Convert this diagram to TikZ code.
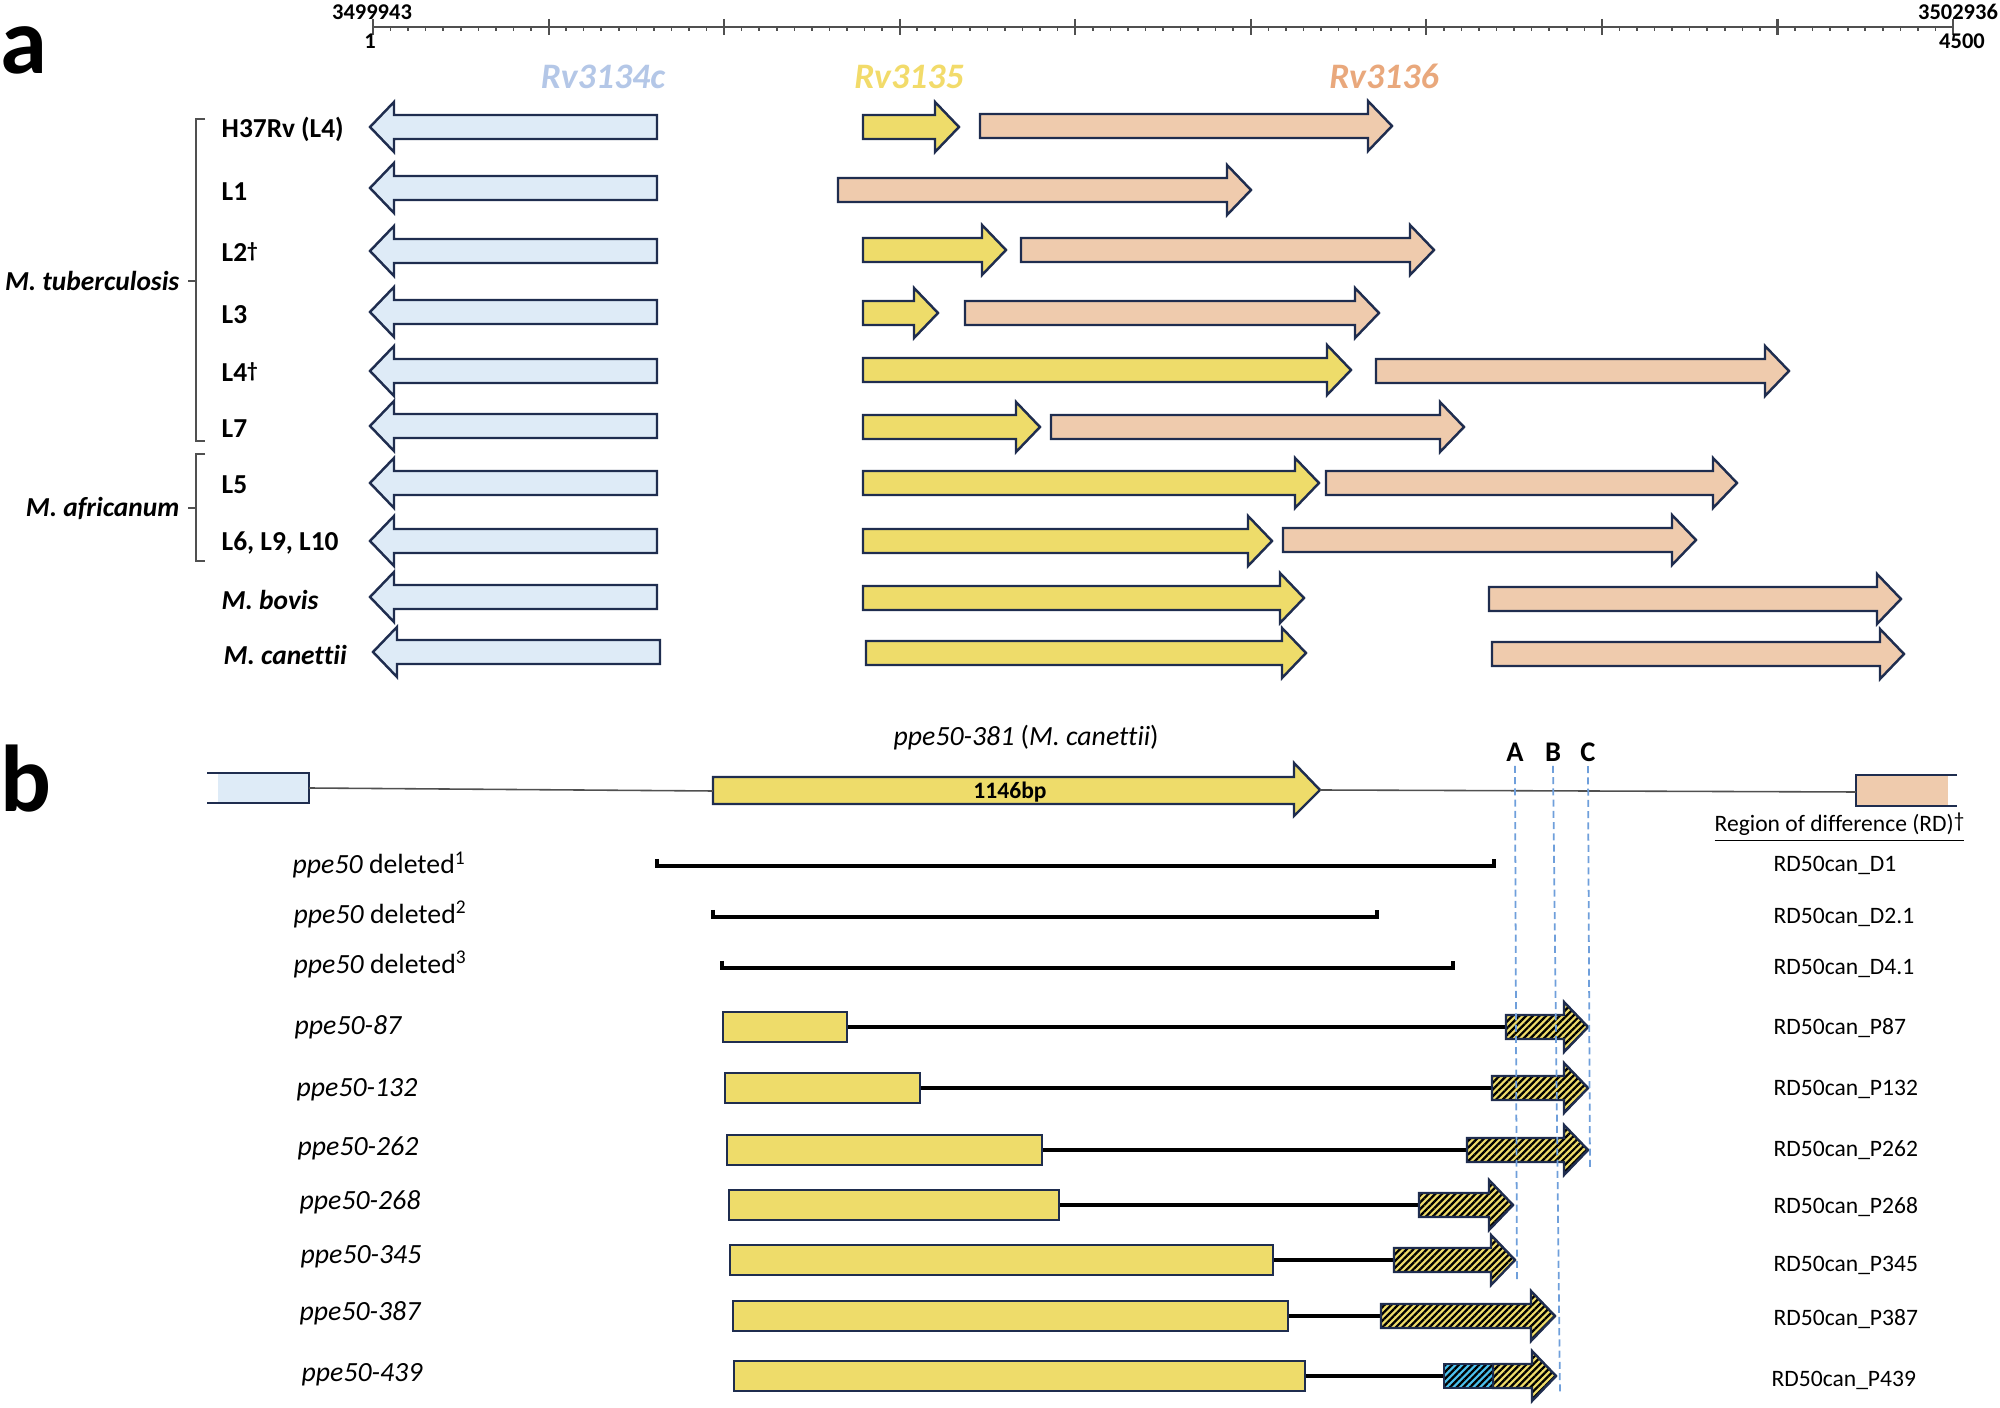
\documentclass[tikz,border=0pt]{standalone}
\usepackage{fontspec}
\setmainfont{Carlito}[Ligatures={NoCommon}]
\usetikzlibrary{patterns.meta}

\definecolor{navy}{HTML}{1F2D4F}
\definecolor{genblue}{HTML}{DEEBF7}
\definecolor{genyellow}{HTML}{EEDC6A}
\definecolor{genorange}{HTML}{EFCBAD}
\definecolor{hatchblue}{HTML}{4BC0EE}
\definecolor{lblblue}{HTML}{B4C7E7}
\definecolor{lblyellow}{HTML}{F2DB6A}
\definecolor{lblorange}{HTML}{E9A87C}
\definecolor{guideblue}{HTML}{6F9FDB}
\definecolor{rulegray}{HTML}{505050}

% forward gene: style, start, tip, y
\newcommand{\fwdgene}[4]{%
  \draw[#1] (#2,#4-12) -- (#3-24,#4-12) -- (#3-24,#4-25) -- (#3,#4)
    -- (#3-24,#4+25) -- (#3-24,#4+12) -- (#2,#4+12) -- cycle;}
% reverse gene: style, tip, end, y
\newcommand{\revgene}[4]{%
  \draw[#1] (#3,#4-12) -- (#2+24,#4-12) -- (#2+24,#4-25) -- (#2,#4)
    -- (#2+24,#4+25) -- (#2+24,#4+12) -- (#3,#4+12) -- cycle;}
\newcommand{\rdmark}{\raisebox{0.35ex}{\fontsize{6}{7}\selectfont †}}

\begin{document}
\begin{tikzpicture}[x=0.1mm,y=-0.1mm,
	Gene/.style={draw=navy,line width=0.7pt,line join=miter},
	Blue/.style={Gene,fill=genblue},
	Yel/.style={Gene,fill=genyellow},
	Ora/.style={Gene,fill=genorange},
	Hatch/.style={Gene,preaction={fill=genyellow},pattern={Lines[angle=45,distance=1.35pt,line width=0.65pt]},pattern color=black},
	HatchB/.style={Gene,preaction={fill=hatchblue},pattern={Lines[angle=45,distance=1.35pt,line width=0.65pt]},pattern color=black},
	YBox/.style={rectangle,draw=navy,line width=0.7pt,fill=genyellow,minimum height=3mm,inner sep=0,anchor=west},
	Row/.style={font=\fontsize{7.8}{9}\selectfont\bfseries,anchor=west,inner sep=0},
	Species/.style={font=\fontsize{7.8}{9}\selectfont\bfseries\itshape,anchor=east,inner sep=0},
	GeneName/.style={font=\fontsize{10.2}{12}\selectfont\bfseries\itshape,inner sep=0},
	Strain/.style={font=\fontsize{7.9}{9}\selectfont,anchor=west,inner sep=0},
	RD/.style={font=\fontsize{6.7}{8}\selectfont,anchor=west,inner sep=0},
	Site/.style={font=\fontsize{8.1}{10}\selectfont\bfseries,inner sep=0},
	Panel/.style={font=\fontsize{27}{30}\selectfont\bfseries,anchor=base west,inner sep=0},
	Tick/.style={font=\fontsize{6.4}{7}\selectfont\bfseries,inner sep=0,anchor=base},
	Brace/.style={rulegray,line width=0.5pt},
	Link/.style={black,line width=0.95pt},
	Del/.style={black,line width=0.95pt},
	Guide/.style={guideblue,line width=0.5pt,dash pattern=on 2pt off 1.2pt},
	Backbone/.style={rulegray,line width=0.45pt},
]
\useasboundingbox (0,0) rectangle (2000,1408);

%% panel a
\node[Panel] (pa) at (0,74) {a};

% scale bar
\draw[rulegray,line width=0.8pt] (373,27) -- (1953,27);
\foreach \i in {1,...,89}
	\draw[rulegray,line width=0.45pt] ({373+17.556*\i},27) -- ++(0,4);
\foreach \i in {0,...,9}
	\draw[rulegray,line width=0.6pt] ({373+175.56*\i},19) -- ++(0,16);
\node[Tick] (pos1) at (372,20) {3499943};
\node[Tick] (one) at (370,49) {1};
\node[Tick] (pos2) at (1958,20) {3502936};
\node[Tick] (end) at (1962,49) {4500};

% gene names
\node[GeneName,text=lblblue,anchor=base] (g34) at (603,89) {Rv3134c};
\node[GeneName,text=lblyellow,anchor=base] (g35) at (909,89) {Rv3135};
\node[GeneName,text=lblorange,anchor=base] (g36) at (1384,89) {Rv3136};

% row labels
\node[Row] (r1) at (221,129) {H37Rv (L4)};
\node[Row] (r2) at (221,192) {L1};
\node[Row] (r3) at (221,252) {L2\rdmark};
\node[Row] (r4) at (221,315) {L3};
\node[Row] (r5) at (221,372) {L4\rdmark};
\node[Row] (r6) at (221,429) {L7};
\node[Row] (r7) at (221,485) {L5};
\node[Row] (r8) at (221,543) {L6, L9, L10};
\node[Row,font=\fontsize{7.8}{9}\selectfont\bfseries\itshape] (r9) at (221,600) {M. bovis};
\node[Row,font=\fontsize{7.8}{9}\selectfont\bfseries\itshape] (r10) at (223,655) {M. canettii};

% brackets
\draw[Brace] (205,119) -- (196,119) -- (196,441) -- (205,441);
\draw[Brace] (196,281) -- (188,281);
\node[Species] (mtb) at (180,281) {M. tuberculosis};
\draw[Brace] (205,454) -- (196,454) -- (196,561) -- (205,561);
\draw[Brace] (196,508) -- (188,508);
\node[Species] (maf) at (180,508) {M. africanum};

% Rv3134c
\foreach \y in {127,188,251,312,371,426,483,541,597}{
	\revgene{Blue}{370}{657}{\y}
}
\revgene{Blue}{373}{660}{652}

% Rv3135
\fwdgene{Yel}{863}{959}{127}
\fwdgene{Yel}{863}{1006}{250}
\fwdgene{Yel}{863}{938}{313}
\fwdgene{Yel}{863}{1351}{370}
\fwdgene{Yel}{863}{1040}{427}
\fwdgene{Yel}{863}{1319}{483}
\fwdgene{Yel}{863}{1272}{541}
\fwdgene{Yel}{863}{1304}{598}
\fwdgene{Yel}{866}{1306}{653}

% Rv3136
\fwdgene{Ora}{980}{1392}{126}
\fwdgene{Ora}{838}{1251}{190}
\fwdgene{Ora}{1021}{1434}{250}
\fwdgene{Ora}{965}{1379}{313}
\fwdgene{Ora}{1376}{1789}{371}
\fwdgene{Ora}{1051}{1464}{427}
\fwdgene{Ora}{1326}{1737}{483}
\fwdgene{Ora}{1283}{1696}{540}
\fwdgene{Ora}{1489}{1901}{599}
\fwdgene{Ora}{1492}{1904}{654}

%% panel b
\node[Panel] (pb) at (0,812) {b};
\node[Strain] (hdr) at (893,738) {\textit{ppe50-381} (\textit{M. canettii})};

% backbone
\fill[genblue] (218,773) rectangle (309,803);
\draw[Gene] (207,773) -- (309,773) -- (309,803) -- (207,803);
\coordinate (lbox) at (309,788);
\coordinate (bigstart) at (713,791);
\coordinate (bigtip) at (1320,790);
\draw[Yel] (713,777) -- (1294,777) -- (1294,763) -- (1320,790) -- (1294,816) -- (1294,804) -- (713,804) -- cycle;
\node[font=\fontsize{6.7}{8}\selectfont\bfseries,inner sep=0] (len) at (1010,792) {1146bp};
\fill[genorange] (1856,775) rectangle (1948,806);
\draw[Gene] (1957,775) -- (1856,775) -- (1856,806) -- (1957,806);
\coordinate (rbox) at (1856,792);
\draw[Backbone] (lbox) -- (bigstart);
\draw[Backbone] (bigtip) -- (rbox);

% sites
\node[Site] (sA) at (1515,752) {A};
\node[Site] (sB) at (1553,752) {B};
\node[Site] (sC) at (1588,752) {C};
\coordinate (eA) at (1517,1282);
\coordinate (eB) at (1560,1395);
\coordinate (eC) at (1590,1170);

% deletions
\node[Strain] (d1) at (292,865) {\textit{ppe50} deleted\textsuperscript{1}};
\node[Strain] (d2) at (293,914) {\textit{ppe50} deleted\textsuperscript{2}};
\node[Strain] (d3) at (293,964) {\textit{ppe50} deleted\textsuperscript{3}};
\draw[Del] (657,859) -- (657,866) -- (1494,866) -- (1494,859);
\draw[Del] (713,910) -- (713,917) -- (1377,917) -- (1377,910);
\draw[Del] (722,961) -- (722,968) -- (1453,968) -- (1453,961);

% pseudogenes
\node[Strain] (l87) at (294,1027) {\textit{ppe50-87}};
\node[Strain] (l132) at (296,1090) {\textit{ppe50-132}};
\node[Strain] (l262) at (297,1148) {\textit{ppe50-262}};
\node[Strain] (l268) at (299,1202) {\textit{ppe50-268}};
\node[Strain] (l345) at (300,1257) {\textit{ppe50-345}};
\node[Strain] (l387) at (299,1313) {\textit{ppe50-387}};
\node[Strain] (l439) at (301,1375) {\textit{ppe50-439}};

\node[YBox,minimum width=12.37mm] (b87) at (722,1027) {};
\node[YBox,minimum width=19.45mm] (b132) at (724,1088) {};
\node[YBox,minimum width=31.51mm] (b262) at (725.5,1150) {};
\node[YBox,minimum width=32.98mm] (b268) at (728,1205) {};
\node[YBox,minimum width=54.29mm] (b345) at (729,1260) {};
\node[YBox,minimum width=55.47mm] (b387) at (732,1316) {};
\node[YBox,minimum width=57.06mm] (b439) at (733,1376) {};

\coordinate (h87) at (1506,1027);
\coordinate (h132) at (1492,1088);
\coordinate (h262) at (1467,1150);
\coordinate (h268) at (1419,1205);
\coordinate (h345) at (1394,1260);
\coordinate (h387) at (1381,1316);
\coordinate (h439) at (1444,1376);

\draw[Link] (b87.east) -- (h87);
\draw[Link] (b132.east) -- (h132);
\draw[Link] (b262.east) -- (h262);
\draw[Link] (b268.east) -- (h268);
\draw[Link] (b345.east) -- (h345);
\draw[Link] (b387.east) -- (h387);
\draw[Link] (b439.east) -- (h439);

\fwdgene{Hatch}{1506}{1588}{1027}
\fwdgene{Hatch}{1492}{1588}{1088}
\fwdgene{Hatch}{1467}{1588}{1150}
\fwdgene{Hatch}{1419}{1513}{1205}
\fwdgene{Hatch}{1394}{1515}{1260}
\fwdgene{Hatch}{1381}{1555}{1316}
\fwdgene{Hatch}{1493}{1556}{1376}
\draw[HatchB] (1444,1364) rectangle (1493,1388);

\draw[Guide] (sA.south) ++(0,4) -- (eA);
\draw[Guide] (sB.south) ++(0,4) -- (eB);
\draw[Guide] (sC.south) ++(0,4) -- (eC);

% region of difference
\node[RD] (rdh) at (1714,828) {\underline{Region of difference (RD)\rdmark}};
\node[RD] (rd1) at (1773,865) {RD50can\_D1};
\node[RD] (rd2) at (1773,917) {RD50can\_D2.1};
\node[RD] (rd3) at (1773,968) {RD50can\_D4.1};
\node[RD] (rd87) at (1773,1028) {RD50can\_P87};
\node[RD] (rd132) at (1773,1089) {RD50can\_P132};
\node[RD] (rd262) at (1773,1150) {RD50can\_P262};
\node[RD] (rd268) at (1773,1207) {RD50can\_P268};
\node[RD] (rd345) at (1773,1265) {RD50can\_P345};
\node[RD] (rd387) at (1773,1319) {RD50can\_P387};
\node[RD] (rd439) at (1771,1380) {RD50can\_P439};
\end{tikzpicture}
\end{document}
